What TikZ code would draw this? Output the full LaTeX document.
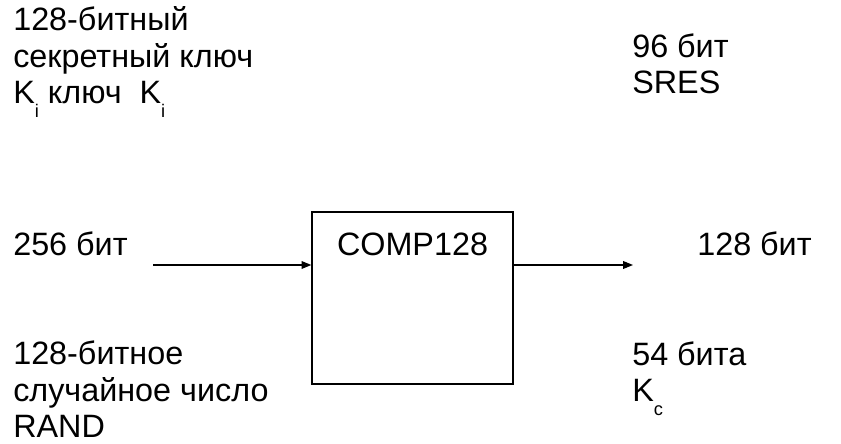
\documentclass[tikz,border=0pt]{standalone}
\usepackage{fontspec}
\setmainfont{Liberation Sans}
\usetikzlibrary{arrows.meta, positioning}

\newcommand{\sub}[1]{\raisebox{-0.42em}{\fontsize{13pt}{13pt}\selectfont #1}}

\begin{document}
\begin{tikzpicture}[x=0.025cm, y=-0.025cm,
  font=\fontsize{23pt}{26.3pt}\selectfont,
  every node/.style={inner sep=0pt, font=\fontsize{23pt}{26.3pt}\selectfont},
  lbl/.style={anchor=base west, align=left},
  blk/.style={draw, line width=0.9pt, minimum width=5.025cm, minimum height=4.3cm},
  flow/.style={-{Triangle[length=7pt, width=5.5pt]}, line width=0.8pt}]
\useasboundingbox (0,0) rectangle (841,444);

% algorithm block
\node[blk] (comp) at (412.5,298) {};
\node[anchor=base] (compname) at (412.5,256) {COMP128};

% inputs (base = last line)
\node[lbl] (key)   at (13,104) {128-битный\\секретный ключ\\K\sub{i} ключ\ \ K\sub{i}};
\node[lbl] (inlen) at (13,256) {256 бит};
\node[lbl] (rand)  at (13,438) {128-битное\\случайное число\\RAND};

% outputs
\node[lbl] (sres)   at (632,94)  {96 бит\\SRES};
\node[lbl] (outlen) at (697,256) {128 бит};
\node[lbl] (kc)     at (632,402) {54 бита\\K\sub{c}};

\coordinate (in)  at (153,265);
\coordinate (out) at (633,265);
\draw[flow] (in) -- (in -| comp.west);
\draw[flow] (out -| comp.east) -- (out);
\end{tikzpicture}
\end{document}
